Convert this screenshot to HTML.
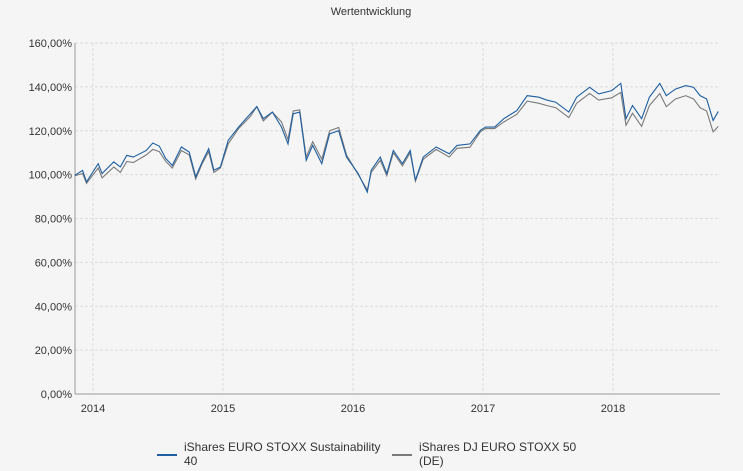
<!DOCTYPE html>
<html><head><meta charset="utf-8"><style>
body{margin:0;background:#f5f5f5;font-family:"Liberation Sans",sans-serif;}
svg{display:block}
text{font-family:"Liberation Sans",sans-serif;font-size:11px;fill:#333}
.lg{font-size:12px}
</style></head><body>
<svg id="chart" width="743" height="471">
<rect width="743" height="471" fill="#f5f5f5"/>
<text x="371" y="15" text-anchor="middle">Wertentwicklung</text>
<g id="grid"></g><g id="axes"></g><g id="series"></g>
<g>
<line x1="157" y1="455" x2="177" y2="455" stroke="#1f5fa0" stroke-width="2"/>
<text class="lg" x="184" y="451">iShares EURO STOXX Sustainability</text>
<text class="lg" x="184" y="465">40</text>
<line x1="392" y1="455" x2="412" y2="455" stroke="#7a7a7a" stroke-width="2"/>
<text class="lg" x="419" y="451">iShares DJ EURO STOXX 50</text>
<text class="lg" x="419" y="465">(DE)</text>
</g>
</svg>
<script>
const yTicks=[0,20,40,60,80,100,120,140,160];
const yTickLabels=["0,00%","20,00%","40,00%","60,00%","80,00%","100,00%","120,00%","140,00%","160,00%"];
const xTicks=[2014,2015,2016,2017,2018];
const xTickLabels=["2014","2015","2016","2017","2018"];
const dates=[2013.86,2013.92,2013.95,2014.04,2014.07,2014.16,2014.21,2014.26,2014.31,2014.41,2014.46,2014.51,2014.56,2014.61,2014.68,2014.74,2014.79,2014.84,2014.89,2014.93,2014.98,2015.04,2015.12,2015.21,2015.26,2015.31,2015.38,2015.45,2015.50,2015.54,2015.59,2015.64,2015.69,2015.76,2015.82,2015.89,2015.95,2016.04,2016.11,2016.14,2016.21,2016.26,2016.31,2016.38,2016.44,2016.48,2016.54,2016.64,2016.74,2016.80,2016.90,2016.98,2017.02,2017.09,2017.16,2017.26,2017.34,2017.43,2017.49,2017.56,2017.66,2017.72,2017.82,2017.89,2017.99,2018.06,2018.10,2018.15,2018.22,2018.28,2018.36,2018.41,2018.48,2018.56,2018.62,2018.67,2018.72,2018.77,2018.81];
const seriesA=[99.7,101.9,96.7,105,100.5,105.8,103.5,108.8,108,111,114.4,113,107.3,104.2,112.6,110.3,99,105.8,111.8,102,103.5,115.6,121.7,127.7,131,125.5,128.5,121.7,114,127.7,128.5,106.5,113.3,105,118.6,120,108,100.5,92,102,108,100.5,111,105,111,97.4,108,112.6,109.5,113.3,114,120.2,121.7,121.7,125.5,129.2,136,135.3,134,133,128.5,135.3,139.8,136.8,138.3,141.6,125.5,131.5,125.5,135.3,141.6,136,139,140.6,139.8,136,134.5,124.7,128.8];
const seriesB=[99.5,100.5,96,103,98.5,103.5,101,106,105.5,109,111.5,110.5,106,103,111,109,98,105,110.5,101,103,114,121,126.5,131,124.5,128.5,124,116,129,129.5,108,115,107,120,121.5,109,100,93,101,106.5,99.5,110,104,110,97,107,111.5,108,112,112.5,119.5,121,121,124,127.5,133.5,132.5,131.5,130.5,126,132.5,137,134,135,137.5,122.5,128,122,131.5,137,131,134.5,136,134.5,130.5,129,119.5,122];
const L=75,R=720,T=43,B=394;
const xs=y=>93+(y-2014)*130;
const ys=v=>B-(v/160)*(B-T);
const NS="http://www.w3.org/2000/svg";
const grid=document.getElementById('grid'),axes=document.getElementById('axes'),ser=document.getElementById('series');
function mk(tag,attrs,parent){const e=document.createElementNS(NS,tag);for(const k in attrs)e.setAttribute(k,attrs[k]);parent.appendChild(e);return e;}
yTicks.forEach((v,i)=>{
  if(v>0){const g=mk('line',{x1:L,x2:R,y1:ys(v),y2:ys(v),stroke:'#dcdcdc','stroke-dasharray':'3,2'},grid);
  
  }
  const t=mk('text',{x:72,y:ys(v)+4,'text-anchor':'end'},axes);t.textContent=yTickLabels[i];
  
  
});
xTicks.forEach((v,i)=>{
  const g=mk('line',{x1:xs(v),x2:xs(v),y1:T,y2:B,stroke:'#dcdcdc','stroke-dasharray':'3,2'},grid);
  
  
  const t=mk('text',{x:xs(v),y:412,'text-anchor':'middle'},axes);t.textContent=xTickLabels[i];
  
  
});
const ya=mk('line',{x1:L,x2:L,y1:T,y2:B,stroke:'#999'},axes);


const xa=mk('line',{x1:L,x2:R,y1:B,y2:B,stroke:'#999'},axes);


const pb=mk('polyline',{points:dates.map((d,i)=>xs(d)+','+ys(seriesB[i])).join(' '),fill:'none',stroke:'#7a7a7a','stroke-width':1.1},ser);


const pa=mk('polyline',{points:dates.map((d,i)=>xs(d)+','+ys(seriesA[i])).join(' '),fill:'none',stroke:'#1f5fa0','stroke-width':1.1},ser);


</script>
</body></html>
